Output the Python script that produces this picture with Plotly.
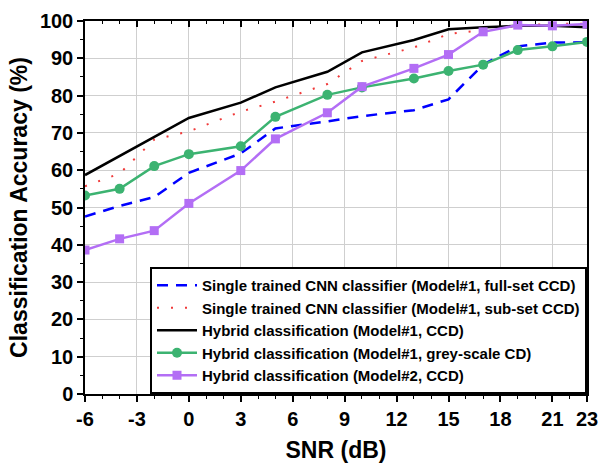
import plotly.graph_objects as go

snr = [-6, -4, -2, 0, 3, 5, 8, 10, 13, 15, 17, 19, 21, 23]
full_set = [47.6, 50.4, 52.8, 59.3, 64.5, 71.2, 73.1, 74.5, 76.1, 79.0, 88.3, 93.2, 94.2, 94.3]
sub_set = [55.7, 59.1, 68.2, 70.4, 75.7, 78.4, 83.1, 89.3, 92.9, 96.5, 97.6, 98.8, 99.2, 99.3]
hybrid_m1 = [58.7, 63.8, 68.9, 74.0, 78.1, 82.2, 86.4, 91.6, 94.9, 97.8, 98.3, 98.7, 98.7, 98.3]
hybrid_grey = [53.2, 55.0, 61.1, 64.3, 66.4, 74.3, 80.2, 82.2, 84.6, 86.6, 88.3, 92.2, 93.2, 94.4]
hybrid_m2 = [38.6, 41.6, 43.8, 51.1, 59.9, 68.4, 75.4, 82.4, 87.3, 91.0, 97.1, 98.9, 98.7, 99.2]

names = [
    "Single trained CNN classifier (Model#1, full-set CCD)",
    "Single trained CNN classifier (Model#1, sub-set CCD)",
    "Hybrid classification (Model#1, CCD)",
    "Hybrid classification (Model#1, grey-scale CD)",
    "Hybrid classification (Model#2, CCD)",
]
x_ticks = [-6, -3, 0, 3, 6, 9, 12, 15, 18, 21, 23]
x_tick_text = ["-6", "-3", "0", "3", "6", "9", "12", "15", "18", "21", "23"]
y_ticks = list(range(0, 101, 10))

FONT = "Liberation Sans, Arial, sans-serif"

fig = go.Figure()
fig.add_trace(go.Scatter(x=snr, y=full_set, name=names[0], mode="lines",
                         line=dict(color="#0000FF", width=2.5, dash="11px,8px")))
fig.add_trace(go.Scatter(x=snr, y=sub_set, name=names[1], mode="lines",
                         line=dict(color="#F03A3A", width=2, dash="2px,12px")))
fig.add_trace(go.Scatter(x=snr, y=hybrid_m1, name=names[2], mode="lines",
                         line=dict(color="#000000", width=2.5)))
fig.add_trace(go.Scatter(x=snr, y=hybrid_grey, name=names[3], mode="lines+markers",
                         line=dict(color="#3CB371", width=2.5),
                         marker=dict(symbol="circle", size=10, color="#3CB371")))
fig.add_trace(go.Scatter(x=snr, y=hybrid_m2, name=names[4], mode="lines+markers",
                         line=dict(color="#B36EF5", width=2.5),
                         marker=dict(symbol="square", size=9, color="#B36EF5")))
# empty trace to hold the top axis (inner ticks)
fig.add_trace(go.Scatter(x=[], y=[], xaxis="x2", showlegend=False, hoverinfo="skip"))

fig.update_layout(
    width=602, height=463,
    margin=dict(l=85, r=15, t=21, b=69),
    paper_bgcolor="white", plot_bgcolor="white",
    font=dict(family=FONT, color="black"),
    xaxis=dict(
        range=[-6, 23], tickmode="array", tickvals=x_ticks, ticktext=x_tick_text,
        ticks="outside", ticklen=6, tickwidth=1.5, tickcolor="black",
        showline=True, linecolor="black", linewidth=1.5, mirror=True,
        showgrid=True, gridcolor="#cfcfcf", gridwidth=1, zeroline=False,
        automargin=False,
        tickfont=dict(size=20, family=FONT, weight="bold"),
        title=dict(text="<b>SNR (dB)</b>", font=dict(size=23, family=FONT), standoff=14),
        minor=dict(tickmode="linear", tick0=-6, dtick=1, ticks="outside",
                   ticklen=3, tickwidth=1, tickcolor="black", showgrid=False),
    ),
    xaxis2=dict(
        range=[-6, 23], overlaying="x", side="top", anchor="y",
        tickmode="array", tickvals=x_ticks, ticks="inside", ticklen=6,
        tickwidth=1.5, tickcolor="black", showticklabels=False,
        showgrid=False, zeroline=False, showline=False, automargin=False,
        minor=dict(tickmode="linear", tick0=-6, dtick=1, ticks="inside",
                   ticklen=3, tickwidth=1, tickcolor="black", showgrid=False),
    ),
    yaxis=dict(
        range=[0, 100], tickmode="array", tickvals=y_ticks,
        ticks="outside", ticklen=6, tickwidth=1.5, tickcolor="black",
        showline=True, linecolor="black", linewidth=1.5, mirror=True,
        showgrid=True, gridcolor="#cfcfcf", gridwidth=1, zeroline=False,
        automargin=False,
        tickfont=dict(size=20, family=FONT, weight="bold"),
        title=dict(text="<b>Classification Accuracy (%)</b>", font=dict(size=23, family=FONT), standoff=6),
        minor=dict(tickmode="linear", tick0=0, dtick=5, ticks="outside",
                   ticklen=3, tickwidth=1, tickcolor="black", showgrid=False),
    ),
    legend=dict(
        x=1, y=0, xanchor="right", yanchor="bottom",
        bgcolor="white", bordercolor="black", borderwidth=2,
        font=dict(size=15, family=FONT, weight="bold"),
        tracegroupgap=0, itemwidth=40,
    ),
    showlegend=True,
)

fig.write_html("out.html")
